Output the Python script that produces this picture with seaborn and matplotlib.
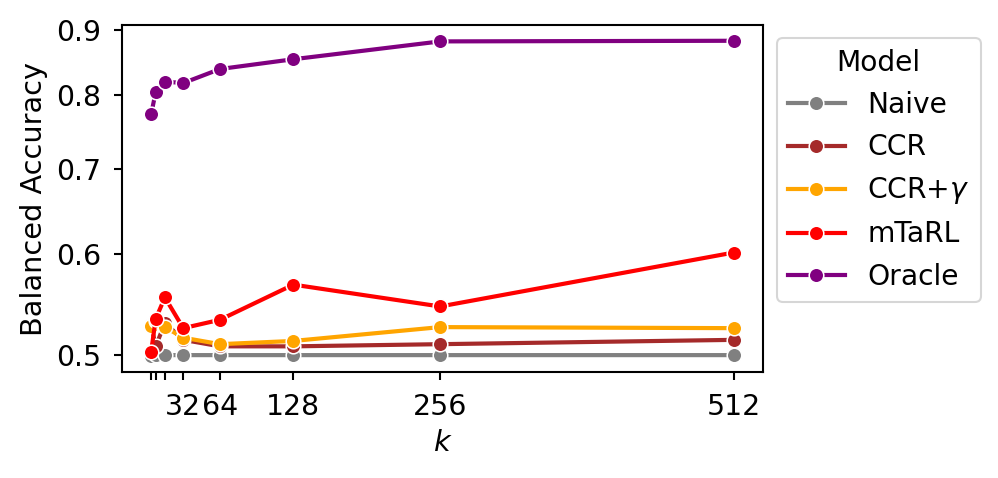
import matplotlib
matplotlib.use("Agg")
import matplotlib.pyplot as plt
import matplotlib.ticker as mticker
import seaborn as sns
import pandas as pd

# ---------------------------------------------------------------------------
# data
# ---------------------------------------------------------------------------
k_values = [4, 8, 16, 32, 64, 128, 256, 512]
naive = [0.499, 0.500, 0.500, 0.500, 0.500, 0.500, 0.500, 0.500]
ccr = [0.528, 0.508, 0.530, 0.514, 0.508, 0.508, 0.510, 0.514]
ccr_gamma = [0.527, 0.532, 0.526, 0.516, 0.510, 0.513, 0.526, 0.525]
mtarl = [0.503, 0.534, 0.555, 0.525, 0.533, 0.568, 0.546, 0.602]
oracle = [0.773, 0.805, 0.820, 0.818, 0.839, 0.854, 0.882, 0.883]

models = ["Naive", "CCR", r"CCR+$\gamma$", "mTaRL", "Oracle"]
series = [naive, ccr, ccr_gamma, mtarl, oracle]
colors = ["grey", "brown", "orange", "red", "purple"]

x_tick_labels = ["", "", "", "32", "64", "128", "256", "512"]
y_ticks = [0.5, 0.6, 0.7, 0.8, 0.9]

rows = []
for name, vals in zip(models, series):
    for k, v in zip(k_values, vals):
        rows.append({"k": k, "Balanced Accuracy": v, "Model": name})
df = pd.DataFrame(rows)

# ---------------------------------------------------------------------------
# plot
# ---------------------------------------------------------------------------
fig = plt.figure(figsize=(998 / 150, 478 / 150), dpi=150)
ax = fig.add_axes([122 / 998, 1 - 372 / 478, (763 - 122) / 998, (372 - 25) / 478])

sns.lineplot(
    data=df, x="k", y="Balanced Accuracy", hue="Model",
    palette=dict(zip(models, colors)), hue_order=models,
    marker="o", linewidth=2, markersize=7, ax=ax,
)

ax.set_yscale("log")
ax.set_yticks(y_ticks)
ax.yaxis.set_major_formatter(mticker.FormatStrFormatter("%.1f"))
ax.yaxis.set_minor_locator(mticker.NullLocator())
ax.set_xticks(k_values)
ax.set_xticklabels(x_tick_labels)
ax.tick_params(labelsize=13.6, length=4, width=1, pad=6)
for s in ax.spines.values():
    s.set_linewidth(1)
ax.set_xlabel("$k$", fontsize=13.8)
ax.set_ylabel("Balanced Accuracy", fontsize=13.8)

ax.legend(
    title="Model", fontsize=13.5, title_fontsize=13.5,
    loc="upper left", bbox_to_anchor=(777 / 998, 1 - 38 / 478),
    bbox_transform=fig.transFigure, borderaxespad=0,
)

fig.savefig("out.png", dpi=150)
